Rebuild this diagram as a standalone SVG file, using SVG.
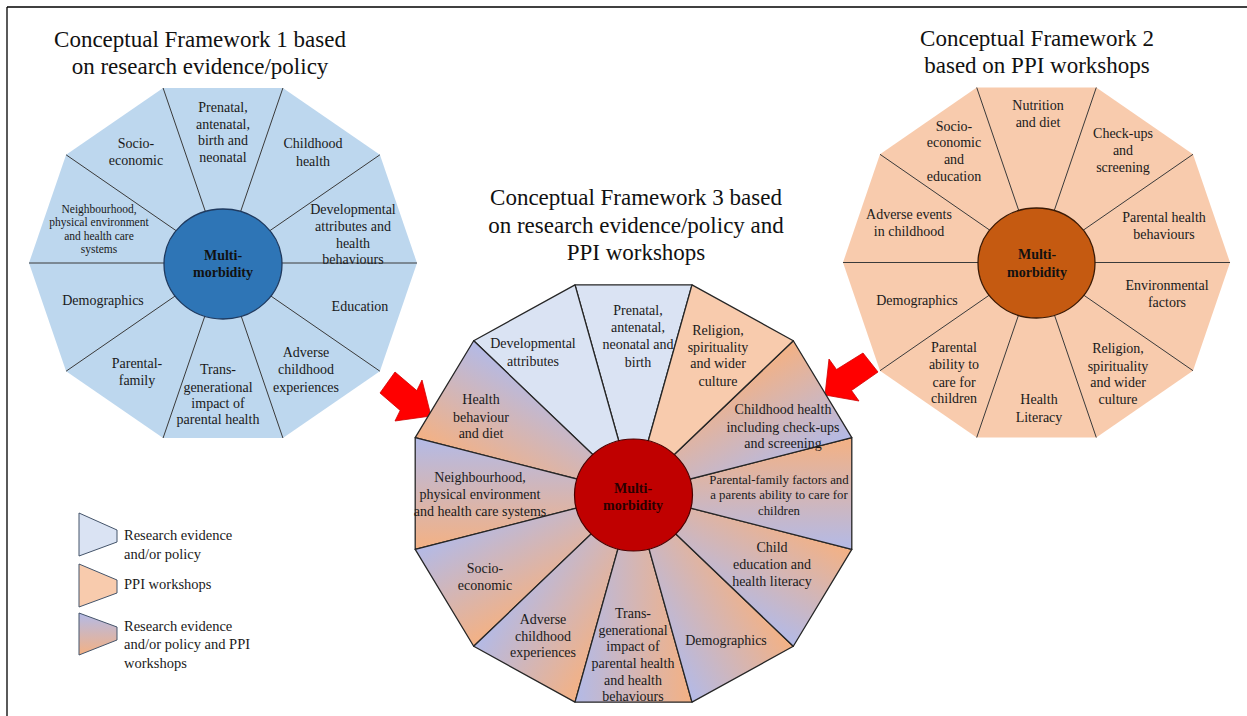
<svg xmlns="http://www.w3.org/2000/svg" width="1247" height="716" viewBox="0 0 1247 716">
<style>
text{font-family:"Liberation Serif","Times New Roman",serif;fill:#1a1a1a}
.title{font-size:23px;text-anchor:middle;fill:#111}
.lbl{font-size:14px;text-anchor:middle}
.sm{font-size:11.5px}
.md{font-size:12.8px}
.ctr{font-size:14px;font-weight:bold;text-anchor:middle;fill:#111}
.leg{font-size:14.5px;text-anchor:start}
.spoke{stroke:#3a3a3a;stroke-width:1}
.seg{stroke:#262626;stroke-width:1.3;stroke-linejoin:round}
.blue{fill:#dae3f3}
.orange{fill:#f8cbad}
.grad{fill:url(#segGrad)}
.arrow{fill:#ff0000;stroke:#d00000;stroke-width:0.8}
</style>
<defs>
<linearGradient id="segGrad" x1="1" y1="0" x2="0" y2="0">
<stop offset="0" stop-color="#b3bae7"/>
<stop offset="1" stop-color="#f4b183"/>
</linearGradient>
<linearGradient id="legGrad" x1="0" y1="0" x2="0" y2="1">
<stop offset="0" stop-color="#b3bae7"/>
<stop offset="1" stop-color="#f4b183"/>
</linearGradient>
</defs>
<rect width="1247" height="716" fill="#fff"/>
<g id="frame" stroke="#000" stroke-width="1.3">
<line x1="7" y1="7" x2="1247" y2="7"/>
<line x1="7" y1="7" x2="7" y2="716"/>
</g>

<g id="framework1">
<text class="title" x="200" y="47">Conceptual Framework 1 based</text>
<text class="title" x="200" y="74">on research evidence/policy</text>
<polygon points="417,263 379.9,154.8 282.9,88 163.1,88 66.1,154.8 29,263 66.1,371.2 163.1,438 282.9,438 379.9,371.2" fill="#bdd7ee"/>
<g class="spoke">
<line x1="223" y1="263" x2="417" y2="263"/>
<line x1="223" y1="263" x2="379.9" y2="154.8"/>
<line x1="223" y1="263" x2="282.9" y2="88"/>
<line x1="223" y1="263" x2="163.1" y2="88"/>
<line x1="223" y1="263" x2="66.1" y2="154.8"/>
<line x1="223" y1="263" x2="29" y2="263"/>
<line x1="223" y1="263" x2="66.1" y2="371.2"/>
<line x1="223" y1="263" x2="163.1" y2="438"/>
<line x1="223" y1="263" x2="282.9" y2="438"/>
<line x1="223" y1="263" x2="379.9" y2="371.2"/>
</g>
<ellipse cx="223" cy="264" rx="59" ry="55" fill="#2e75b6" stroke="#1f3a5f" stroke-width="1.3"/>
<text class="ctr" x="223" y="260">Multi-</text>
<text class="ctr" x="223" y="277">morbidity</text>
<text class="lbl" x="223"><tspan x="223" y="112">Prenatal,</tspan><tspan x="223" y="129">antenatal,</tspan><tspan x="223" y="145">birth and</tspan><tspan x="223" y="162">neonatal</tspan></text>
<text class="lbl"><tspan x="313" y="148">Childhood</tspan><tspan x="313" y="166">health</tspan></text>
<text class="lbl"><tspan x="353" y="214">Developmental</tspan><tspan x="353" y="231">attributes and</tspan><tspan x="353" y="248">health</tspan><tspan x="353" y="264">behaviours</tspan></text>
<text class="lbl" x="360" y="311">Education</text>
<text class="lbl"><tspan x="306" y="357">Adverse</tspan><tspan x="306" y="374">childhood</tspan><tspan x="306" y="392">experiences</tspan></text>
<text class="lbl"><tspan x="218" y="374">Trans-</tspan><tspan x="218" y="392">generational</tspan><tspan x="218" y="408">impact of</tspan><tspan x="218" y="424">parental health</tspan></text>
<text class="lbl"><tspan x="137" y="368">Parental-</tspan><tspan x="137" y="385">family</tspan></text>
<text class="lbl" x="103" y="305">Demographics</text>
<text class="lbl sm"><tspan x="99" y="213">Neighbourhood,</tspan><tspan x="99" y="226">physical environment</tspan><tspan x="99" y="240">and health care</tspan><tspan x="99" y="253">systems</tspan></text>
<text class="lbl"><tspan x="136" y="148">Socio-</tspan><tspan x="136" y="165">economic</tspan></text>
</g>

<g id="framework2">
<text class="title" x="1037" y="46">Conceptual Framework 2</text>
<text class="title" x="1037" y="73">based on PPI workshops</text>
<polygon points="1230,262.5 1193,154.3 1096.3,87.5 976.7,87.5 880,154.3 843,262.5 880,370.7 976.7,437.5 1096.3,437.5 1193,370.7" fill="#f8cbad"/>
<g class="spoke">
<line x1="1036.5" y1="262.5" x2="1230" y2="262.5"/>
<line x1="1036.5" y1="262.5" x2="1193" y2="154.3"/>
<line x1="1036.5" y1="262.5" x2="1096.3" y2="87.5"/>
<line x1="1036.5" y1="262.5" x2="976.7" y2="87.5"/>
<line x1="1036.5" y1="262.5" x2="880" y2="154.3"/>
<line x1="1036.5" y1="262.5" x2="843" y2="262.5"/>
<line x1="1036.5" y1="262.5" x2="880" y2="370.7"/>
<line x1="1036.5" y1="262.5" x2="976.7" y2="437.5"/>
<line x1="1036.5" y1="262.5" x2="1096.3" y2="437.5"/>
<line x1="1036.5" y1="262.5" x2="1193" y2="370.7"/>
</g>
<ellipse cx="1036.5" cy="263" rx="58.5" ry="55" fill="#c55a11" stroke="#3b1a05" stroke-width="1.3"/>
<text class="ctr" x="1037" y="259">Multi-</text>
<text class="ctr" x="1037" y="277">morbidity</text>
<text class="lbl"><tspan x="1038" y="110">Nutrition</tspan><tspan x="1038" y="127">and diet</tspan></text>
<text class="lbl"><tspan x="1123" y="138">Check-ups</tspan><tspan x="1123" y="155">and</tspan><tspan x="1123" y="172">screening</tspan></text>
<text class="lbl"><tspan x="1164" y="222">Parental health</tspan><tspan x="1164" y="239">behaviours</tspan></text>
<text class="lbl"><tspan x="1167" y="290">Environmental</tspan><tspan x="1167" y="307">factors</tspan></text>
<text class="lbl"><tspan x="1118" y="353">Religion,</tspan><tspan x="1118" y="371">spirituality</tspan><tspan x="1118" y="387">and wider</tspan><tspan x="1118" y="404">culture</tspan></text>
<text class="lbl"><tspan x="1039" y="404">Health</tspan><tspan x="1039" y="422">Literacy</tspan></text>
<text class="lbl"><tspan x="954" y="352">Parental</tspan><tspan x="954" y="369">ability to</tspan><tspan x="954" y="387">care for</tspan><tspan x="954" y="403">children</tspan></text>
<text class="lbl" x="917" y="305">Demographics</text>
<text class="lbl"><tspan x="909" y="219">Adverse events</tspan><tspan x="909" y="236">in childhood</tspan></text>
<text class="lbl"><tspan x="954" y="131">Socio-</tspan><tspan x="954" y="147">economic</tspan><tspan x="954" y="164">and</tspan><tspan x="954" y="181">education</tspan></text>
</g>

<g id="connectors">
<polygon id="arrow-left" class="arrow" points="395,372 416.8,390.6 422,380 431,416 395,421 400.2,410.4 380,393"/>
<polygon id="arrow-right" class="arrow" points="825,395 829,359 836.5,369.5 863,353 878,372 851.5,390.5 859,401"/>
</g>

<g id="framework3">
<text class="title" x="636" y="205">Conceptual Framework 3 based</text>
<text class="title" x="636" y="233">on research evidence/policy and</text>
<text class="title" x="636" y="260">PPI workshops</text>
<g transform="translate(633.5,493.5) scale(1,0.9558)">
<polygon class="seg blue" vector-effect="non-scaling-stroke" points="0,0 58.49,-218.3 -58.49,-218.3"/>
<polygon class="seg blue" vector-effect="non-scaling-stroke" points="0,0 58.49,-218.3 -58.49,-218.3" transform="rotate(-30)"/>
<polygon class="seg grad" vector-effect="non-scaling-stroke" points="0,0 58.49,-218.3 -58.49,-218.3" transform="rotate(-60)"/>
<polygon class="seg grad" vector-effect="non-scaling-stroke" points="0,0 58.49,-218.3 -58.49,-218.3" transform="rotate(-90)"/>
<polygon class="seg grad" vector-effect="non-scaling-stroke" points="0,0 58.49,-218.3 -58.49,-218.3" transform="rotate(-120)"/>
<polygon class="seg grad" vector-effect="non-scaling-stroke" points="0,0 58.49,-218.3 -58.49,-218.3" transform="rotate(-150)"/>
<polygon class="seg grad" vector-effect="non-scaling-stroke" points="0,0 58.49,-218.3 -58.49,-218.3" transform="rotate(-180)"/>
<polygon class="seg grad" vector-effect="non-scaling-stroke" points="0,0 58.49,-218.3 -58.49,-218.3" transform="rotate(-210)"/>
<polygon class="seg grad" vector-effect="non-scaling-stroke" points="0,0 58.49,-218.3 -58.49,-218.3" transform="rotate(-240)"/>
<polygon class="seg grad" vector-effect="non-scaling-stroke" points="0,0 58.49,-218.3 -58.49,-218.3" transform="rotate(-270)"/>
<polygon class="seg grad" vector-effect="non-scaling-stroke" points="0,0 58.49,-218.3 -58.49,-218.3" transform="rotate(-300)"/>
<polygon class="seg orange" vector-effect="non-scaling-stroke" points="0,0 58.49,-218.3 -58.49,-218.3" transform="rotate(-330)"/>
</g>
<ellipse cx="633.5" cy="495" rx="59" ry="56" fill="#c00000" stroke="#4a0000" stroke-width="1.2"/>
<text class="ctr" x="633" y="493" style="fill:#2a0000">Multi-</text>
<text class="ctr" x="633" y="510" style="fill:#2a0000">morbidity</text>
<text class="lbl"><tspan x="638" y="315">Prenatal,</tspan><tspan x="638" y="332">antenatal,</tspan><tspan x="638" y="349">neonatal and</tspan><tspan x="638" y="367">birth</tspan></text>
<text class="lbl"><tspan x="533" y="348">Developmental</tspan><tspan x="533" y="366">attributes</tspan></text>
<text class="lbl"><tspan x="718" y="335">Religion,</tspan><tspan x="718" y="352">spirituality</tspan><tspan x="718" y="368">and wider</tspan><tspan x="718" y="386">culture</tspan></text>
<text class="lbl"><tspan x="783" y="414">Childhood  health</tspan><tspan x="783" y="432">including  check-ups</tspan><tspan x="783" y="448">and screening</tspan></text>
<text class="lbl"><tspan x="481" y="404">Health</tspan><tspan x="481" y="422">behaviour</tspan><tspan x="481" y="438">and diet</tspan></text>
<text class="lbl"><tspan x="480" y="482">Neighbourhood,</tspan><tspan x="480" y="499">physical environment</tspan><tspan x="480" y="516">and health care systems</tspan></text>
<text class="lbl md"><tspan x="779" y="484">Parental-family factors and</tspan><tspan x="779" y="499">a parents ability to care for</tspan><tspan x="779" y="515">children</tspan></text>
<text class="lbl"><tspan x="772" y="552">Child</tspan><tspan x="772" y="569">education and</tspan><tspan x="772" y="586">health literacy</tspan></text>
<text class="lbl"><tspan x="485" y="573">Socio-</tspan><tspan x="485" y="590">economic</tspan></text>
<text class="lbl"><tspan x="543" y="624">Adverse</tspan><tspan x="543" y="641">childhood</tspan><tspan x="543" y="657">experiences</tspan></text>
<text class="lbl"><tspan x="633" y="618">Trans-</tspan><tspan x="633" y="635">generational</tspan><tspan x="633" y="651">impact of</tspan><tspan x="633" y="668">parental health</tspan><tspan x="633" y="685">and health</tspan><tspan x="633" y="701">behaviours</tspan></text>
<text class="lbl" x="726" y="645">Demographics</text>
</g>

<g id="legend">
<polygon points="79,513 117,530 117,542 79,556" class="blue" stroke="#44546a" stroke-width="1"/>
<polygon points="79,564 117,580 117,593 79,607" class="orange" stroke="#44546a" stroke-width="1"/>
<polygon points="79,613 117,627 117,640 79,655" fill="url(#legGrad)" stroke="#44546a" stroke-width="1"/>
<text class="leg"><tspan x="124" y="540">Research evidence</tspan><tspan x="124" y="559">and/or policy</tspan></text>
<text class="leg" x="124" y="589">PPI workshops</text>
<text class="leg"><tspan x="124" y="631">Research evidence</tspan><tspan x="124" y="649">and/or policy and PPI</tspan><tspan x="124" y="668">workshops</tspan></text>
</g>
</svg>
